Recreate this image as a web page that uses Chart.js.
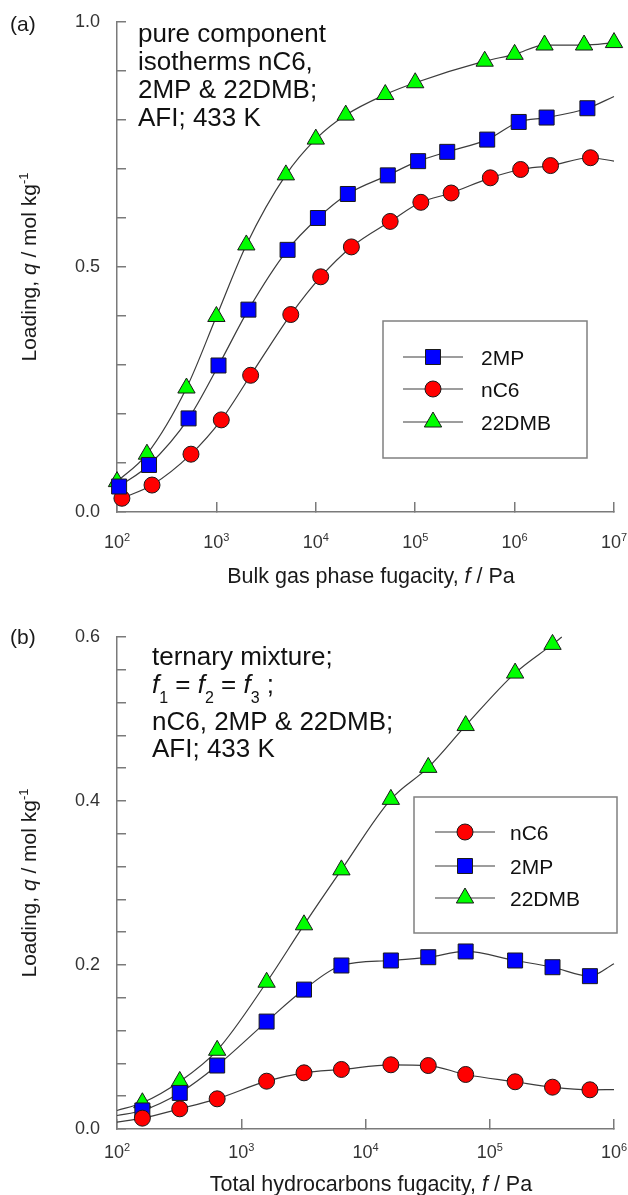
<!DOCTYPE html>
<html>
<head>
<meta charset="utf-8">
<script src="https://cdn.jsdelivr.net/npm/chart.js@4.4.1/dist/chart.umd.min.js"></script>
<style>
  body { margin: 0; background: #fff; }
  canvas { display: block; }
</style>
</head>
<body>
<canvas id="chartA" width="628" height="597"></canvas>
<canvas id="chartB" width="628" height="598"></canvas>
<script>
// ---- panel (a): pure component isotherms, fugacity f / Pa vs loading q / mol kg-1
var xTicksA = [1e2, 1e3, 1e4, 1e5, 1e6, 1e7];

var fA_2MP = [105, 210, 525, 1050, 2100, 5200, 10500, 21000, 53000, 107000, 210000, 530000, 1100000, 2100000, 5400000];
var qA_2MP = [0.052, 0.096, 0.191, 0.299, 0.413, 0.535, 0.600, 0.649, 0.687, 0.716, 0.735, 0.760, 0.796, 0.805, 0.824];
var fA_2MP_end = [1e7];
var qA_2MP_end = [0.848];

var fA_nC6 = [112, 225, 555, 1120, 2210, 5600, 11200, 22800, 56000, 114000, 230000, 570000, 1150000, 2300000, 5800000];
var qA_nC6 = [0.028, 0.055, 0.118, 0.188, 0.279, 0.403, 0.480, 0.541, 0.593, 0.632, 0.651, 0.682, 0.699, 0.707, 0.723];
var fA_nC6_end = [1e7];
var qA_nC6_end = [0.716];

var fA_22DMB = [100, 200, 500, 1000, 2000, 5000, 1e4, 2e4, 5e4, 1e5, 5e5, 1e6, 2e6, 5e6, 1e7];
var qA_22DMB = [0.062, 0.118, 0.253, 0.399, 0.545, 0.688, 0.761, 0.810, 0.852, 0.876, 0.920, 0.934, 0.953, 0.953, 0.958];

// ---- panel (b): ternary mixture, total hydrocarbons fugacity
var xTicksB = [1e2, 1e3, 1e4, 1e5, 1e6];
var fB = [160, 320, 640, 1600, 3200, 6400, 16000, 32000, 64000, 160000, 320000, 640000];
var fB_start = [100];

var qB_nC6 = [0.0132, 0.0246, 0.0368, 0.0583, 0.0685, 0.0726, 0.0783, 0.0774, 0.0665, 0.0576, 0.051, 0.0478];
var qB_nC6_start = [0.0083];
var fB_nC6_end = [1e6];
var qB_nC6_end = [0.048];

var qB_2MP = [0.0226, 0.044, 0.0774, 0.131, 0.170, 0.1994, 0.2055, 0.2095, 0.2165, 0.2055, 0.1973, 0.1864];
var qB_2MP_start = [0.0165];
var fB_2MP_end = [1e6];
var qB_2MP_end = [0.2015];

var fB_22DMB = [160, 320, 640, 1600, 3200, 6400, 16000, 32000, 64000, 160000, 320000];
var qB_22DMB = [0.032, 0.058, 0.096, 0.179, 0.249, 0.316, 0.402, 0.441, 0.492, 0.556, 0.591];
var qB_22DMB_start = [0.0226];
var fB_22DMB_end = [380000];
var qB_22DMB_end = [0.600];

var FONT = '"Liberation Sans", Arial, Helvetica, sans-serif';
var AXIS = '#7a7a7a';
var STY = {
  'nC6':   { shape: 'circle',   color: '#ff0000', r: 8 },
  '2MP':   { shape: 'rect',     color: '#0000ff', r: 10.6 },
  '22DMB': { shape: 'triangle', color: '#00ff00', r: 10 }
};

function series(label, f, q, fPre, qPre, fPost, qPost) {
  var st = STY[label], pts = [], rad = [];
  fPre.forEach(function (x, i) { pts.push({ x: x, y: qPre[i] }); rad.push(0); });
  f.forEach(function (x, i) { pts.push({ x: x, y: q[i] }); rad.push(st.r); });
  fPost.forEach(function (x, i) { pts.push({ x: x, y: qPost[i] }); rad.push(0); });
  return {
    label: label,
    data: pts,
    clip: false,
    pointRadius: rad,
    pointHoverRadius: rad,
    pointStyle: st.shape,
    pointBackgroundColor: st.color,
    pointBorderColor: '#1a1a1a',
    pointBorderWidth: 1,
    borderColor: '#3c3c3c',
    borderWidth: 1.2,
    cubicInterpolationMode: 'monotone',
    fill: false
  };
}

function fontFor(seg, size) {
  var small = seg[1] === 'sup' || seg[1] === 'sub';
  var sz = small ? Math.round(size * 0.62) : size;
  return (seg[1] === 'i' ? 'italic ' : '') + sz + 'px ' + FONT;
}

function drawRich(ctx, segs, x, y, size, align, color) {
  ctx.save();
  ctx.fillStyle = color || '#1a1a1a';
  ctx.textBaseline = 'alphabetic';
  ctx.textAlign = 'left';
  var w = 0;
  segs.forEach(function (s) { ctx.font = fontFor(s, size); w += ctx.measureText(s[0]).width; });
  var cx = align === 'center' ? x - w / 2 : x;
  segs.forEach(function (s) {
    ctx.font = fontFor(s, size);
    var dy = s[1] === 'sup' ? -size * 0.38 : (s[1] === 'sub' ? size * 0.4 : 0);
    ctx.fillText(s[0], cx, y + dy);
    cx += ctx.measureText(s[0]).width;
  });
  ctx.restore();
}

function drawMarker(ctx, st, x, y) {
  var r = st.r;
  ctx.beginPath();
  if (st.shape === 'circle') {
    ctx.arc(x, y, r, 0, 2 * Math.PI);
  } else if (st.shape === 'rect') {
    var s = r * Math.SQRT1_2;
    ctx.rect(x - s, y - s, 2 * s, 2 * s);
  } else {
    ctx.moveTo(x, y - r);
    ctx.lineTo(x + 0.866 * r, y + 0.5 * r);
    ctx.lineTo(x - 0.866 * r, y + 0.5 * r);
    ctx.closePath();
  }
  ctx.fillStyle = st.color;
  ctx.fill();
  ctx.lineWidth = 1;
  ctx.strokeStyle = '#1a1a1a';
  ctx.stroke();
}

// panel letter, annotation, axis titles, x tick labels with exponents, boxed legend
function makeDecor(cfg) {
  return {
    id: 'decor',
    afterDraw: function (chart) {
      var ctx = chart.ctx;
      var xs = chart.scales.x;

      drawRich(ctx, [[cfg.letter, '']], 10, cfg.letterY, 21, 'left', '#1a1a1a');

      cfg.note.forEach(function (line, i) {
        drawRich(ctx, line, cfg.noteX, cfg.noteY[i], 26, 'left', '#111');
      });

      cfg.xTicks.forEach(function (v) {
        var e = String(Math.round(Math.log10(v)));
        drawRich(ctx, [['10', ''], [e, 'sup']], xs.getPixelForValue(v), cfg.tickY, 18, 'center', '#333');
      });

      drawRich(ctx, cfg.xTitle, 371, cfg.xTitleY, 21.5, 'center', '#1a1a1a');

      ctx.save();
      ctx.translate(36, (chart.chartArea.top + chart.chartArea.bottom) / 2);
      ctx.rotate(-Math.PI / 2);
      drawRich(ctx, [['Loading, ', ''], ['q', 'i'], [' / mol kg', ''], ['-1', 'sup']], 0, 0, 21, 'center', '#1a1a1a');
      ctx.restore();

      // legend
      var L = cfg.legend;
      ctx.save();
      ctx.strokeStyle = '#808080';
      ctx.lineWidth = 1.5;
      ctx.strokeRect(L.x0, L.y0, L.x1 - L.x0, L.y1 - L.y0);
      L.order.forEach(function (name, i) {
        var y = L.rows[i];
        ctx.beginPath();
        ctx.moveTo(L.lineX0, y);
        ctx.lineTo(L.lineX1, y);
        ctx.strokeStyle = '#3c3c3c';
        ctx.lineWidth = 1.2;
        ctx.stroke();
        drawMarker(ctx, STY[name], (L.lineX0 + L.lineX1) / 2, y);
        drawRich(ctx, [[name, '']], L.textX, y + 7.5, 21, 'left', '#111');
      });
      ctx.restore();
    }
  };
}

function makeOptions(cfg) {
  return {
    responsive: false,
    animation: false,
    layout: { padding: { top: cfg.top, right: 14, bottom: 0, left: 0 } },
    plugins: { legend: { display: false }, tooltip: { enabled: false } },
    scales: {
      x: {
        type: 'logarithmic',
        min: cfg.xTicks[0],
        max: cfg.xTicks[cfg.xTicks.length - 1],
        afterBuildTicks: function (s) { s.ticks = cfg.xTicks.map(function (v) { return { value: v }; }); },
        afterFit: function (s) { s.height = cfg.xH; s.paddingLeft = 0; s.paddingRight = 0; },
        ticks: { display: false },
        grid: { drawOnChartArea: false, drawTicks: true, tickLength: -10, color: AXIS, lineWidth: 1.5 },
        border: { display: true, color: AXIS, width: 1.5 }
      },
      y: {
        min: 0,
        max: cfg.yMax,
        afterFit: function (s) { s.width = 117; s.paddingTop = 0; s.paddingBottom = 0; },
        ticks: {
          stepSize: cfg.yStep,
          autoSkip: false,
          padding: 26,
          color: '#333',
          font: { family: FONT, size: 18 },
          callback: function (v) {
            var k = v / cfg.yLabelStep;
            return Math.abs(k - Math.round(k)) < 1e-6 ? v.toFixed(1) : '';
          }
        },
        grid: { drawOnChartArea: false, drawTicks: true, tickLength: -9, color: AXIS, lineWidth: 1.5 },
        border: { display: true, color: AXIS, width: 1.5 }
      }
    }
  };
}

new Chart(document.getElementById('chartA'), {
  type: 'line',
  data: {
    datasets: [
      series('2MP', fA_2MP, qA_2MP, [], [], fA_2MP_end, qA_2MP_end),
      series('nC6', fA_nC6, qA_nC6, [], [], fA_nC6_end, qA_nC6_end),
      series('22DMB', fA_22DMB, qA_22DMB, [], [], [], [])
    ]
  },
  options: makeOptions({ top: 22, xH: 85, xTicks: xTicksA, yMax: 1.0, yStep: 0.1, yLabelStep: 0.5 }),
  plugins: [makeDecor({
    letter: '(a)', letterY: 31,
    noteX: 138, noteY: [42, 70, 98, 126],
    note: [[['pure component', '']], [['isotherms nC6,', '']], [['2MP & 22DMB;', '']], [['AFI; 433 K', '']]],
    xTicks: xTicksA, tickY: 548,
    xTitle: [['Bulk gas phase fugacity, ', ''], ['f', 'i'], [' / Pa', '']], xTitleY: 583,
    legend: { x0: 383, y0: 321, x1: 587, y1: 458, rows: [357, 389, 422], lineX0: 403, lineX1: 463, textX: 481,
              order: ['2MP', 'nC6', '22DMB'] }
  })]
});

new Chart(document.getElementById('chartB'), {
  type: 'line',
  data: {
    datasets: [
      series('nC6', fB, qB_nC6, fB_start, qB_nC6_start, fB_nC6_end, qB_nC6_end),
      series('2MP', fB, qB_2MP, fB_start, qB_2MP_start, fB_2MP_end, qB_2MP_end),
      series('22DMB', fB_22DMB, qB_22DMB, fB_start, qB_22DMB_start, fB_22DMB_end, qB_22DMB_end)
    ]
  },
  options: makeOptions({ top: 40, xH: 66, xTicks: xTicksB, yMax: 0.6, yStep: 0.04, yLabelStep: 0.2 }),
  plugins: [makeDecor({
    letter: '(b)', letterY: 47,
    noteX: 152, noteY: [68, 96, 133, 160],
    note: [
      [['ternary mixture;', '']],
      [['f', 'i'], ['1', 'sub'], [' = ', ''], ['f', 'i'], ['2', 'sub'], [' = ', ''], ['f', 'i'], ['3', 'sub'], [' ;', '']],
      [['nC6, 2MP & 22DMB;', '']],
      [['AFI; 433 K', '']]
    ],
    xTicks: xTicksB, tickY: 561,
    xTitle: [['Total hydrocarbons fugacity, ', ''], ['f', 'i'], [' / Pa', '']], xTitleY: 594,
    legend: { x0: 414, y0: 200, x1: 617, y1: 336, rows: [235, 269, 301], lineX0: 435, lineX1: 495, textX: 510,
              order: ['nC6', '2MP', '22DMB'] }
  })]
});
</script>
</body>
</html>
